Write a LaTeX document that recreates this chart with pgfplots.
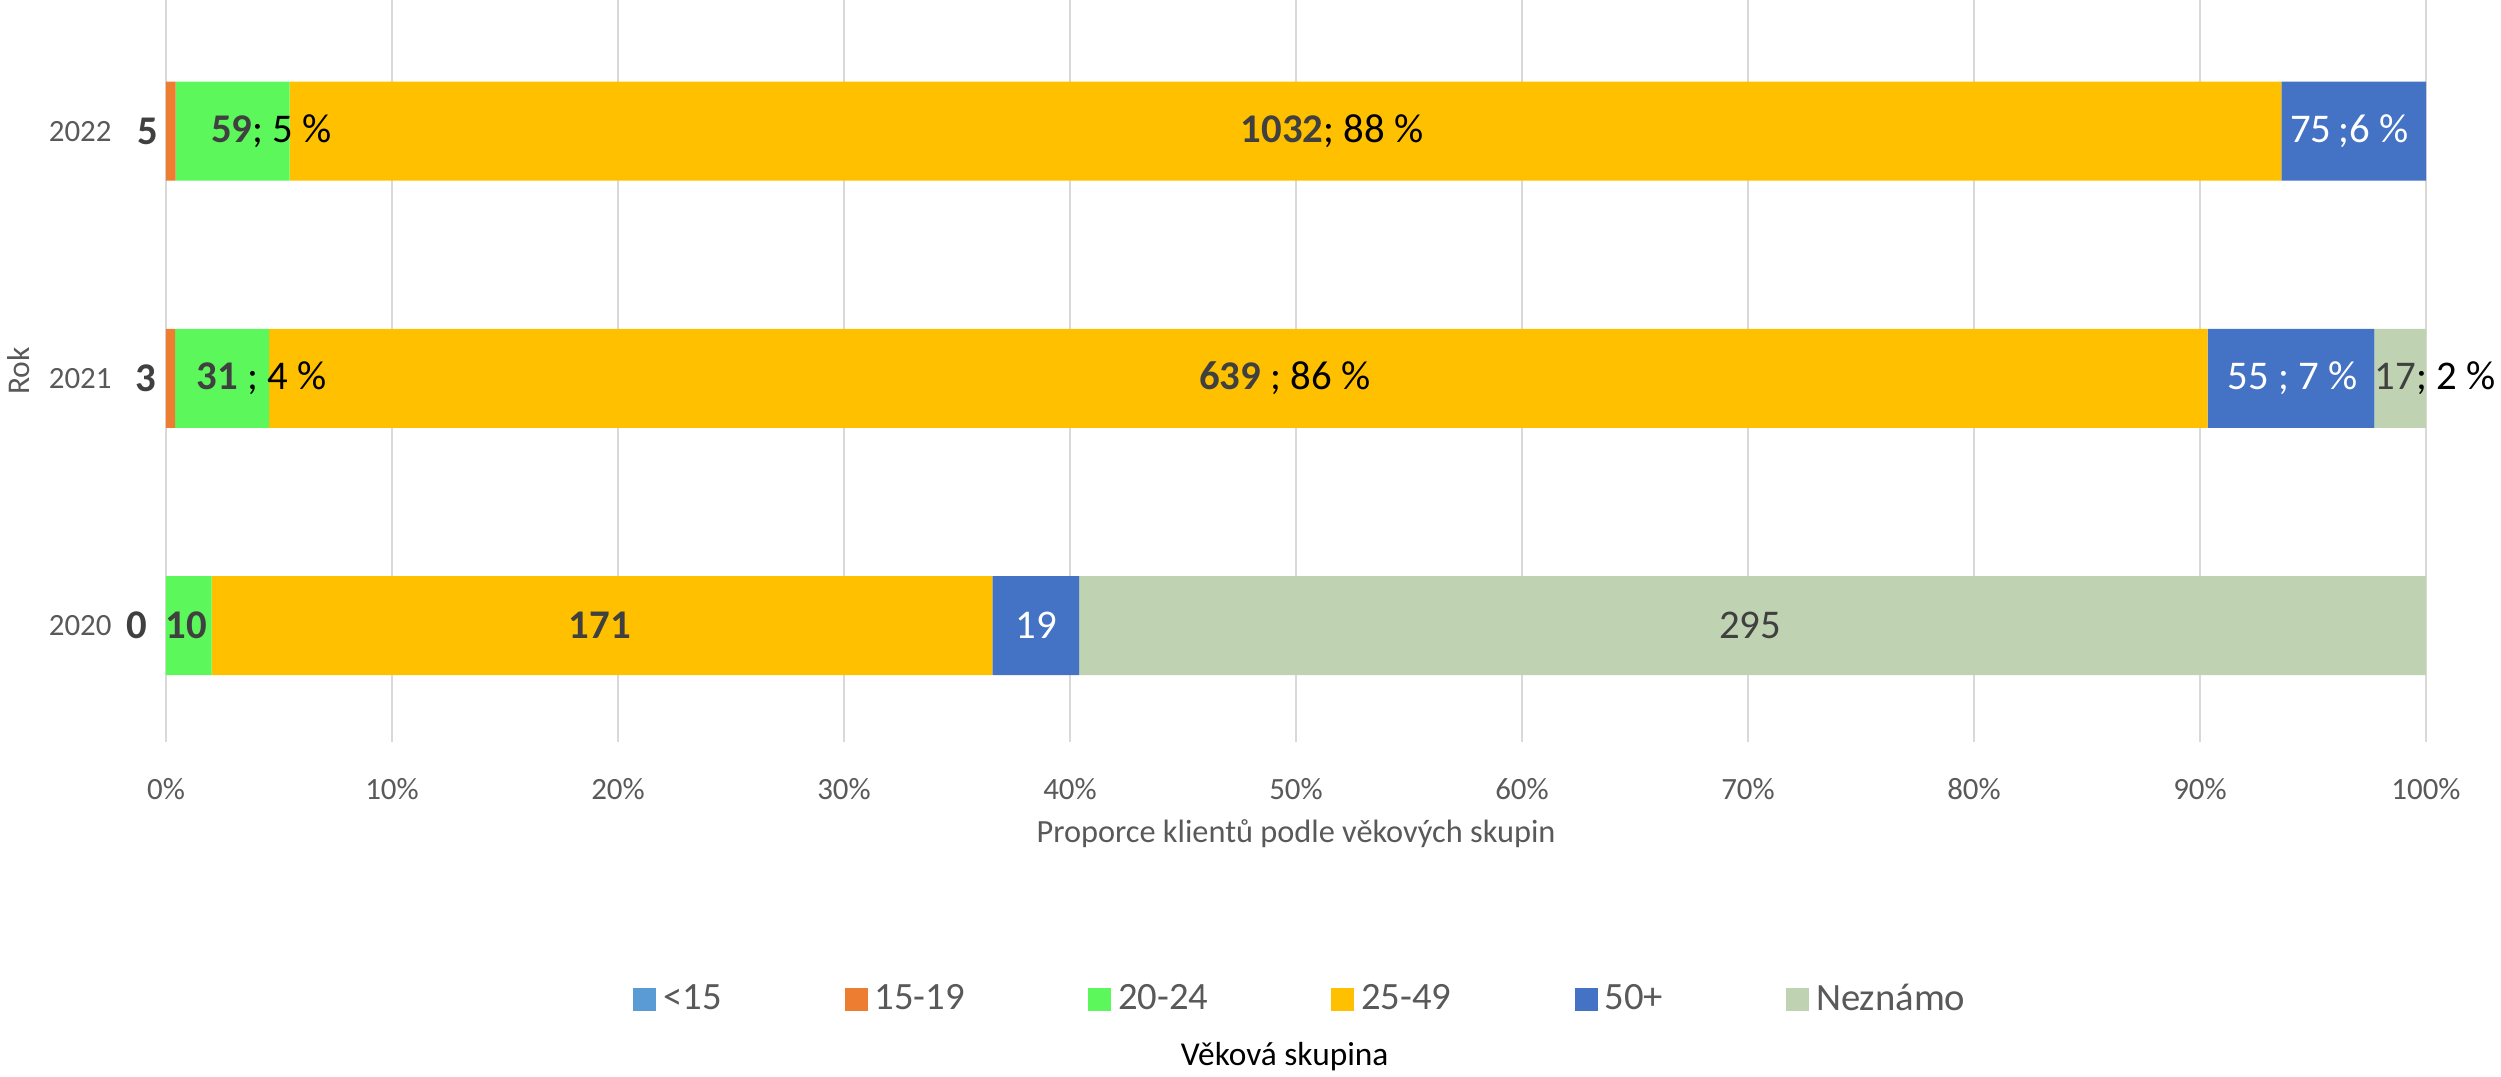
\documentclass[border=0pt]{standalone}
\usepackage{pgfplots}
\pgfplotsset{compat=1.18}
\usepackage{fontspec}
\setmainfont{Carlito}
\definecolor{cA}{HTML}{5B9BD5}
\definecolor{cB}{HTML}{ED7D31}
\definecolor{cC}{HTML}{5CF75A}
\definecolor{cD}{HTML}{FFC000}
\definecolor{cE}{HTML}{4472C4}
\definecolor{cF}{HTML}{BFD2B1}
\definecolor{txt}{HTML}{595959}
\definecolor{dark}{HTML}{404040}
\definecolor{gridc}{HTML}{D9D9D9}
\newcommand{\lbl}{\fontsize{11.6}{14}\selectfont}
\begin{document}
\begin{tikzpicture}
\begin{axis}[
  at={(0,0)}, anchor=north west,
  scale only axis, width=22.6cm, height=7.42cm,
  xbar stacked, bar width=0.99cm,
  xmin=0, xmax=100, ymin=-0.47, ymax=2.53,
  xtick={0,10,...,100},
  xticklabel={\pgfmathprintnumber{\tick}\%},
  ytick={0,1,2}, yticklabels={2020,2021,2022},
  xmajorgrids, grid style={gridc, line width=0.45pt},
  axis line style={draw=none},
  major tick length=0pt,
  tick label style={font=\fontsize{8.8}{11}\selectfont, text=txt},
  /pgf/number format/assume math mode=true,
  yticklabel style={xshift=-4.2mm},
  xticklabel style={yshift=-2.4mm},
  xlabel={Proporce klientů podle věkových skupin},
  xlabel style={at={(axis description cs:0.5,0)}, anchor=center, yshift=-9.2mm, font=\fontsize{9.2}{11}\selectfont, text=txt},
  ylabel={Rok},
  ylabel style={at={(axis description cs:0,0.5)}, anchor=center, yshift=14.7mm, font=\fontsize{9}{11}\selectfont, text=txt},
  legend style={at={(0.503,0)}, anchor=center, yshift=-25.8mm, draw=none,
    legend columns=6, font=\fontsize{11}{13}\selectfont, text=txt,
    /tikz/every even column/.append style={column sep=11.6mm}},
  legend image code/.code={\fill[#1] (0cm,-0.115cm) rectangle (0.23cm,0.115cm);},
  clip=false,
]
\addplot[fill=cA, draw=none] coordinates {(0,0) (0,1) (0,2)};
\addlegendentry{<15}
\addplot[fill=cB, draw=none] coordinates {(0,0) (0.403,1) (0.427,2)};
\addlegendentry{15-19}
\addplot[fill=cC, draw=none] coordinates {(2.020,0) (4.161,1) (5.038,2)};
\addlegendentry{20-24}
\addplot[fill=cD, draw=none] coordinates {(34.545,0) (85.772,1) (88.130,2)};
\addlegendentry{25-49}
\addplot[fill=cE, draw=none] coordinates {(3.838,0) (7.383,1) (6.405,2)};
\addlegendentry{50+}
\addplot[fill=cF, draw=none] coordinates {(59.596,0) (2.282,1) (0,2)};
\addlegendentry{Neznámo}
% label anchor positions
\coordinate (a5) at (axis cs:-0.8,2);
\coordinate (a3) at (axis cs:-0.9,1);
\coordinate (a0) at (axis cs:-1.3,0);
\coordinate (b59) at (axis cs:4.66,2);
\coordinate (b1032) at (axis cs:51.6,2);
\coordinate (b75) at (axis cs:96.6,2);
\coordinate (c31) at (axis cs:4.23,1);
\coordinate (c639) at (axis cs:49.5,1);
\coordinate (c55) at (axis cs:94.1,1);
\coordinate (c17) at (axis cs:100.4,1);
\coordinate (d10) at (axis cs:0.9,0);
\coordinate (d171) at (axis cs:19.2,0);
\coordinate (d19) at (axis cs:38.5,0);
\coordinate (d295) at (axis cs:70.1,0);
\coordinate (ttl) at (axis description cs:0.495,0);
\end{axis}
% data labels on top of bars
\node[font=\lbl\bfseries, text=dark] at (a5) {5};
\node[font=\lbl\bfseries, text=dark] at (a3) {3};
\node[font=\lbl\bfseries, text=dark] at (a0) {0};
\node[font=\lbl] at (b59) {\textcolor{dark}{\bfseries 59}; 5 \%};
\node[font=\lbl] at (b1032) {\textcolor{dark}{\bfseries 1032}; 88 \%};
\node[font=\lbl, text=white] at (b75) {75\,;6 \%};
\node[font=\lbl] at (c31) {\textcolor{dark}{\bfseries 31} ; 4 \%};
\node[font=\lbl] at (c639) {\textcolor{dark}{\bfseries 639} ; 86 \%};
\node[font=\lbl, text=white] at (c55) {55 ; 7 \%};
\node[font=\lbl] at (c17) {\textcolor{dark}{17}; 2 \%};
\node[font=\lbl\bfseries, text=dark] at (d10) {10};
\node[font=\lbl\bfseries, text=dark] at (d171) {171};
\node[font=\lbl, text=white] at (d19) {19};
\node[font=\lbl, text=dark] at (d295) {295};
\node[font=\fontsize{9.5}{11}\selectfont, text=black, anchor=center, yshift=-31.5mm] at (ttl) {Věková skupina};
\pgfresetboundingbox
\path (-1.66cm,0) rectangle (23.35cm,-10.77cm);
\end{tikzpicture}
\end{document}
